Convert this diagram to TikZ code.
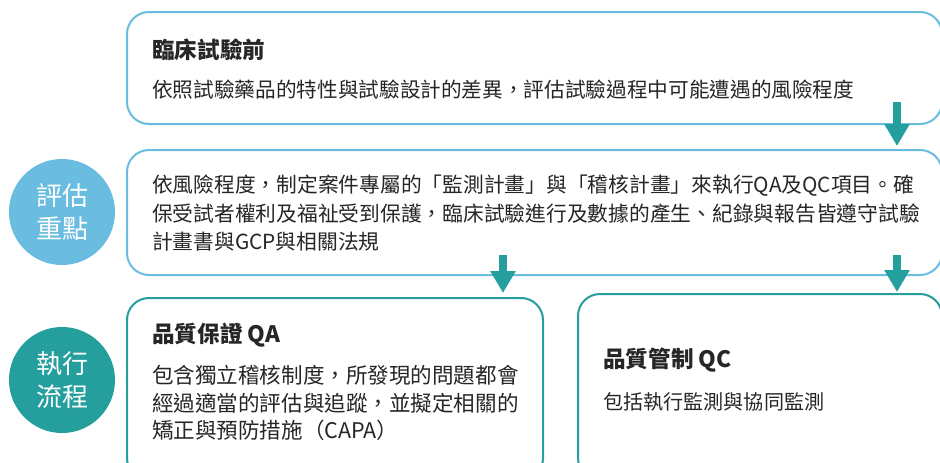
\documentclass[tikz,border=0pt]{standalone}
\usepackage{fontspec}
\setmainfont{Noto Sans CJK TC}
\usetikzlibrary{arrows.meta}
\definecolor{lblue}{HTML}{6ABDE0}
\definecolor{teal2}{HTML}{259E9E}
\definecolor{txt}{HTML}{262626}
\tikzset{
  bluebox/.style={draw=lblue, line width=2pt, rounded corners=22pt, rectangle, inner sep=0pt},
  tealbox/.style={draw=teal2, line width=2pt, rounded corners=22pt, rectangle, inner sep=0pt},
  circ/.style={circle, inner sep=0pt, minimum size=106pt, text=white, align=center,
    font=\fontsize{26}{33}\selectfont},
  ttl/.style={anchor=west, inner sep=0pt, text=txt, font=\fontsize{22.6}{28}\selectfont\bfseries},
  body/.style={anchor=west, inner sep=0pt, text=txt, align=left},
  arr/.style={draw=teal2, line width=8pt, -{Triangle[width=24pt,length=22pt]}}
}
\begin{document}
\begin{tikzpicture}[x=1pt,y=-1pt]
\clip (0,0) rectangle (940,463);
\fill[white] (0,0) rectangle (940,463);
% boxes
\node[bluebox, minimum width=815pt, minimum height=112pt] (b1) at (534.5,68) {};
\node[bluebox, minimum width=815pt, minimum height=125pt] (b2) at (534.5,212.5) {};
\node[tealbox, minimum width=416pt, minimum height=182pt] (b3) at (335,389) {};
\node[tealbox, minimum width=364pt, minimum height=186pt] (b4) at (760,387) {};
% circles
\node[circ, fill=lblue] (c1) at (62,212) {評估\\重點};
\node[circ, fill=teal2] (c2) at (62,380) {執行\\流程};
% texts
\node[ttl] (t1) at (152,50) {臨床試驗前};
\node[body, font=\fontsize{20.65}{28.5}\selectfont] (d1) at (152,90) {依照試驗藥品的特性與試驗設計的差異，評估試驗過程中可能遭遇的風險程度};
\node[body, font=\fontsize{20.75}{28.5}\selectfont] (d2) at (152,213.5) {依風險程度，制定案件專屬的「監測計畫」與「稽核計畫」來執行QA及QC項目。確\\保受試者權利及福祉受到保護，臨床試驗進行及數據的產生、紀錄與報告皆遵守試驗\\計畫書與GCP與相關法規};
\node[ttl] (t3) at (152,335) {品質保證 QA};
\node[body, font=\fontsize{21.55}{27.5}\selectfont] (d3) at (152,403) {包含獨立稽核制度，所發現的問題都會\\經過適當的評估與追蹤，並擬定相關的\\矯正與預防措施（CAPA）};
\node[ttl] (t4) at (603,360) {品質管制 QC};
\node[body, font=\fontsize{20.1}{28}\selectfont] (d4) at (603,402) {包括執行監測與協同監測};
% arrows
\coordinate (a1) at (897,102);
\coordinate (a2) at (503,255);
\coordinate (a3) at (897,255);
\draw[arr] (a1) -- ([yshift=3pt]a1 |- b2.north);
\draw[arr] (a2) -- ([yshift=4pt]a2 |- b3.north);
\draw[arr] (a3) -- ([yshift=1pt]a3 |- b4.north);
\end{tikzpicture}
\end{document}
